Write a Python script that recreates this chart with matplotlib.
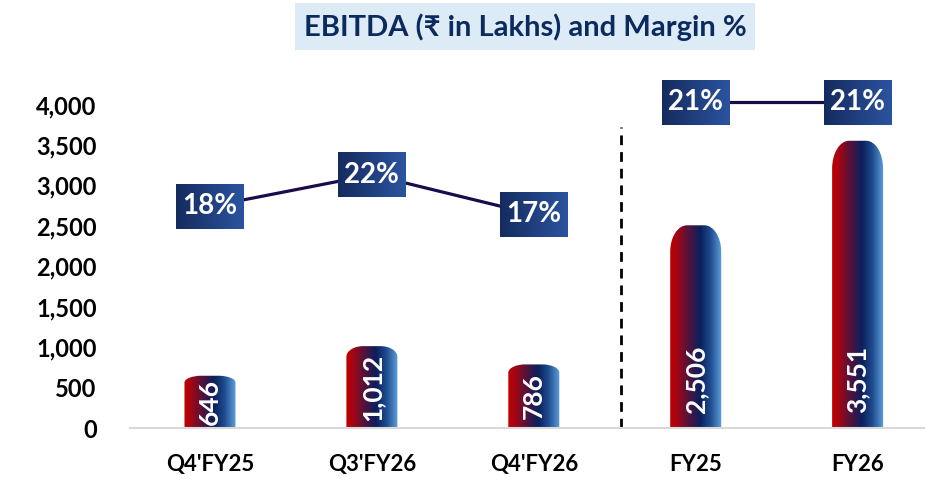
import numpy as np
import matplotlib
matplotlib.use("Agg")
import matplotlib.pyplot as plt
from matplotlib.path import Path
from matplotlib.patches import PathPatch, Rectangle
from matplotlib.colors import LinearSegmentedColormap

# ---------------- data ----------------
categories = ["Q4'FY25", "Q3'FY26", "Q4'FY26", "FY25", "FY26"]
ebitda = [646, 1012, 786, 2506, 3551]
margin_quarters = [18, 22, 17]      # Q4'FY25, Q3'FY26, Q4'FY26
margin_years = [21, 21]             # FY25, FY26
yticks = [0, 500, 1000, 1500, 2000, 2500, 3000, 3500, 4000]
title = "EBITDA (₹ in Lakhs) and Margin %"

# ---------------- style ----------------
FONT = ["Lato", "DejaVu Sans"]
plt.rcParams["font.family"] = FONT
W, H = 928, 484
fig = plt.figure(figsize=(W / 100, H / 100), dpi=100)
renderer = fig.canvas.get_renderer()

ax = fig.add_axes([130 / W, (H - 428) / H, 794 / W, 364 / H])
ax.set_xlim(-0.494, 4.41)
ax.set_ylim(0, 4500)

bar_cmap = LinearSegmentedColormap.from_list(
    "bar", [(0.0, "#C00000"), (0.12, "#A80511"), (0.38, "#4A1440"),
            (0.58, "#0A1F5C"), (0.78, "#1E4C8E"), (1.0, "#5FA0DC")])
box_cmap = LinearSegmentedColormap.from_list("box", ["#152B5E", "#2B54A0"])

bar_w = 0.315
px_per_unit = 364 / 4500.0
grad = np.linspace(0, 1, 256).reshape(1, -1)

for i, v in enumerate(ebitda):
    x0, x1 = i - bar_w / 2, i + bar_w / 2
    hpx = v * px_per_unit
    ry = min(0.13 * hpx, 28) / px_per_unit
    rx = 0.33 * bar_w
    k = 0.5523
    verts = [(x0, 0), (x0, v - ry),
             (x0, v - ry + k * ry), (x0 + rx - k * rx, v), (x0 + rx, v),
             (x1 - rx, v),
             (x1 - rx + k * rx, v), (x1, v - ry + k * ry), (x1, v - ry),
             (x1, 0), (x0, 0)]
    codes = [Path.MOVETO, Path.LINETO,
             Path.CURVE4, Path.CURVE4, Path.CURVE4,
             Path.LINETO,
             Path.CURVE4, Path.CURVE4, Path.CURVE4,
             Path.LINETO, Path.CLOSEPOLY]
    patch = PathPatch(Path(verts, codes), facecolor="none", edgecolor="none")
    ax.add_patch(patch)
    im = ax.imshow(grad, cmap=bar_cmap, extent=[x0, x1, 0, v], aspect="auto",
                   interpolation="bicubic", zorder=2)
    im.set_clip_path(patch)
    # value label inside base (rotated); centred if it does not fit
    label = f"{v:,}"
    t = ax.text(i, 15 / px_per_unit, label, rotation=90, ha="center",
                va="bottom", color="white", fontsize=19, fontweight="bold",
                zorder=3, clip_on=True)
    ext = t.get_window_extent(renderer)
    if 15 + ext.height > hpx - 3:
        t.set_y(v / 2)
        t.set_va("center")

ax.set_xlim(-0.494, 4.41)
ax.set_ylim(0, 4500)

for s in ["top", "right", "left"]:
    ax.spines[s].set_visible(False)
ax.spines["bottom"].set_color("#D9D9D9")
ax.spines["bottom"].set_linewidth(1.5)
ax.set_yticks(yticks)
ax.set_yticklabels([f"{t:,}" for t in yticks], fontsize=17, fontweight="bold")
ax.set_xticks(range(len(categories)))
ax.set_xticklabels(categories, fontsize=16, fontweight="bold")
ax.tick_params(axis="y", length=0, pad=24)
ax.tick_params(axis="x", length=0, pad=19)

# dashed separator
ax.axvline(2.54, ymin=0, ymax=(428 - 127) / 364, color="black", lw=2,
           linestyle=(0, (3.5, 2.5)), zorder=1)

# margin lines
line_col = "#1A0B4A"
ax2 = ax.twinx()
ax2.set_ylim(-10, 36)
ax2.axis("off")
ax2.plot(range(3), margin_quarters, color=line_col, lw=2.3)
ax3 = ax.twinx()
ax3.set_ylim(0, 23.45)
ax3.axis("off")
ax3.plot([3, 4], margin_years, color=line_col, lw=2.3)
for a in (ax2, ax3):
    a.set_xlim(-0.494, 4.41)

# label boxes
def label_box(axis, x, y, text):
    dx, dy = axis.transData.transform((x, y))
    bw, bh = 68, 45
    bax = fig.add_axes([(dx - bw / 2) / W, (dy - bh / 2) / H, bw / W, bh / H])
    bax.imshow(grad, cmap=box_cmap, extent=[0, 1, 0, 1], aspect="auto")
    bax.set_xlim(0, 1)
    bax.set_ylim(0, 1)
    bax.axis("off")
    bax.text(0.5, 0.5, text, ha="center", va="center", color="white",
             fontsize=20, fontweight="bold", transform=bax.transAxes)

for i, m in enumerate(margin_quarters):
    label_box(ax2, i, m, f"{m}%")
for j, m in enumerate(margin_years):
    label_box(ax3, 3 + j, m, f"{m}%")

# title
fig.patches.append(Rectangle((295 / W, (H - 50) / H), 460 / W, 47 / H,
                             transform=fig.transFigure, facecolor="#DDEBF7",
                             edgecolor="none"))
fig.text(525 / W, (H - 27) / H, title, ha="center", va="center",
         fontsize=21, fontweight="bold", color="#0B2A5E", family=FONT)

fig.savefig("out.png", dpi=100)
